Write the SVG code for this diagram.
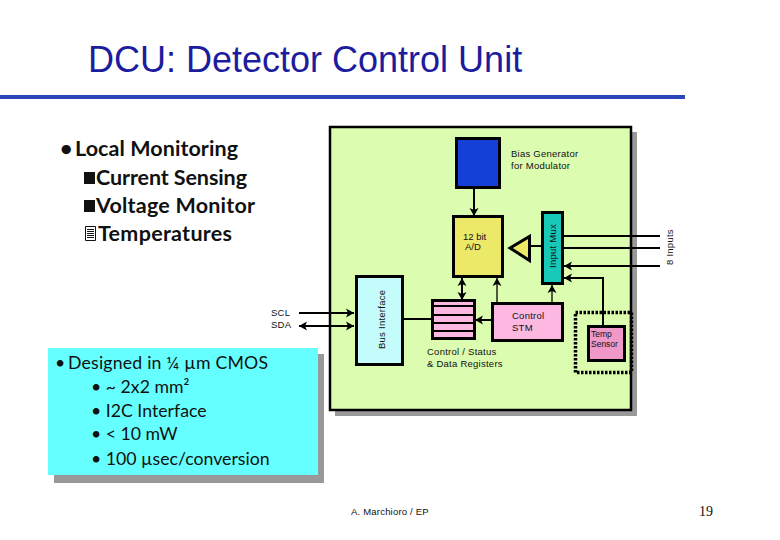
<svg xmlns="http://www.w3.org/2000/svg" width="780" height="540" viewBox="0 0 780 540">
<style>
.s{font-family:"Liberation Sans",Arial,sans-serif;fill:#111}
.small{font-size:9.500px;letter-spacing:.25px}
.box{stroke:#000;stroke-width:3}
.ln{stroke:#000;stroke-width:2;fill:none}
.thin{stroke:#000;stroke-width:1.3;fill:none}
.b{font-family:Lato,"Noto Sans",sans-serif;font-weight:700;font-size:21.500px;fill:#111}
.c{font-family:Lato,"Noto Sans",sans-serif;font-size:17.700px;fill:#111}
</style>
<defs>
<marker id="a" markerUnits="userSpaceOnUse" markerWidth="10" markerHeight="10" refX="8" refY="5" orient="auto-start-reverse"><path d="M0 .5L8 5L0 9.500L2 5Z" fill="#000"/></marker>
</defs>
<rect width="780" height="540" fill="#fff"/>
<text x="88" y="72" font-family="Liberation Sans,Arial,sans-serif" font-size="36" fill="#1c1c9e">DCU: Detector Control Unit</text>
<rect x="0" y="95" width="685" height="4" fill="#2a46b8"/>
<g id="monitoring">
<text class="b" x="60" y="156">•</text><text class="b" x="75" y="156" textLength="163">Local Monitoring</text>
<rect x="84" y="172" width="11" height="12" fill="#111"/><text class="b" x="96" y="185" textLength="151">Current Sensing</text>
<rect x="84" y="200" width="11" height="12" fill="#111"/><text class="b" x="96" y="213" textLength="159">Voltage Monitor</text>
<path d="M85.500 226.500h10v14h-10zM87 229.500h7M87 231.500h7M87 233.500h7M87 235.500h7M87 237.500h7" fill="#fff" stroke="#111"/><text class="b" x="98" y="241" textLength="134">Temperatures</text>
</g>
<g id="panel">
<rect x="335" y="132" width="302" height="284" fill="#999"/>
<rect x="330" y="127" width="301" height="283" fill="#dcfcb0" stroke="#000" stroke-width="2.500"/>
</g>
<g id="info">
<rect x="54" y="354" width="270" height="129" fill="#999"/>
<rect x="48" y="348" width="270" height="127" fill="#66ffff"/>
<text class="c" x="55" y="369">•</text><text class="c" x="68" y="369" textLength="200">Designed in ¼ µm CMOS</text>
<text class="c" x="91" y="393">• ~ 2x2 mm²</text>
<text class="c" x="91" y="417">• I2C Interface</text>
<text class="c" x="91" y="440">• &lt; 10 mW</text>
<text class="c" x="91" y="465">• 100 µsec/conversion</text>
</g>
<g id="connectors">
<path class="ln" d="M474 188V216" marker-end="url(#a)"/>
<path class="ln" d="M660 236H564M660 248H564M660 266H564" marker-end="url(#a)"/>
<path class="ln" d="M603 326V278H564" marker-end="url(#a)"/>
<path class="ln" d="M542 246H530"/>
<path class="ln" d="M462 278V300" marker-start="url(#a)" marker-end="url(#a)"/>
<path class="thin" d="M497 303V278" marker-end="url(#a)"/>
<path class="thin" d="M552 303V285" marker-end="url(#a)"/>
<path class="ln" d="M403 319H432"/>
<path class="ln" d="M492 320H475" marker-end="url(#a)"/>
<path class="ln" d="M299 313H354" marker-end="url(#a)"/>
<path class="ln" d="M299 326H354" marker-start="url(#a)" marker-end="url(#a)"/>
</g>
<g id="bias"><rect class="box" x="456.500" y="138.500" width="43" height="49" fill="#1440d8"/>
<text class="s small" x="511" y="157">Bias Generator</text><text class="s small" x="511" y="169">for Modulator</text></g>
<g id="adc"><rect class="box" x="453.500" y="216.500" width="49" height="60" fill="#ece868"/>
<text class="s" font-size="9.500" x="463" y="240">12 bit</text><text class="s" font-size="9.500" x="465" y="250">A/D</text></g>
<g id="amp"><path d="M510 248L529.500 236.500V260.500Z" fill="#ece868" stroke="#000" stroke-width="3"/></g>
<g id="mux"><rect class="box" x="542.500" y="212.500" width="20" height="71" fill="#18c8b8"/>
<text class="s small" transform="translate(555.500 268) rotate(-90)">Input Mux</text></g>
<g id="inputs"><text class="s small" transform="translate(673 265) rotate(-90)">8 Inputs</text></g>
<g id="bus"><rect class="box" x="356.500" y="276.500" width="46" height="88" fill="#c4fcfc"/>
<text class="s small" transform="translate(385 349) rotate(-90)">Bus Interface</text></g>
<g id="scl"><text class="s small" x="271" y="316">SCL</text><text class="s small" x="271" y="328">SDA</text></g>
<g id="registers"><rect class="box" x="432.500" y="300.500" width="42" height="38" fill="#fcb8e0"/>
<path class="ln" d="M433 306H474M433 315H474M433 323H474M433 331H474"/>
<text class="s small" x="427" y="355">Control / Status</text><text class="s small" x="427" y="367">&amp; Data Registers</text></g>
<g id="stm"><rect class="box" x="492.500" y="303.500" width="70" height="37" fill="#fcb8e0"/>
<text class="s small" x="512" y="319">Control</text><text class="s small" x="512" y="331">STM</text></g>
<g id="temp"><rect x="575.500" y="312.500" width="56" height="60" fill="none" stroke="#000" stroke-width="3.500" stroke-dasharray="2.500 1.500"/>
<rect class="box" x="588.500" y="326.500" width="36" height="34" fill="#f098c8"/>
<text class="s" x="591" y="337" font-size="8.500">Temp</text><text class="s" x="591" y="347" font-size="8.500">Sensor</text></g>
<text x="351" y="515" class="s" font-size="9.500" letter-spacing=".2">A. Marchioro / EP</text>
<text x="699" y="516" font-family="Liberation Serif,serif" font-size="14" fill="#111">19</text>
</svg>
